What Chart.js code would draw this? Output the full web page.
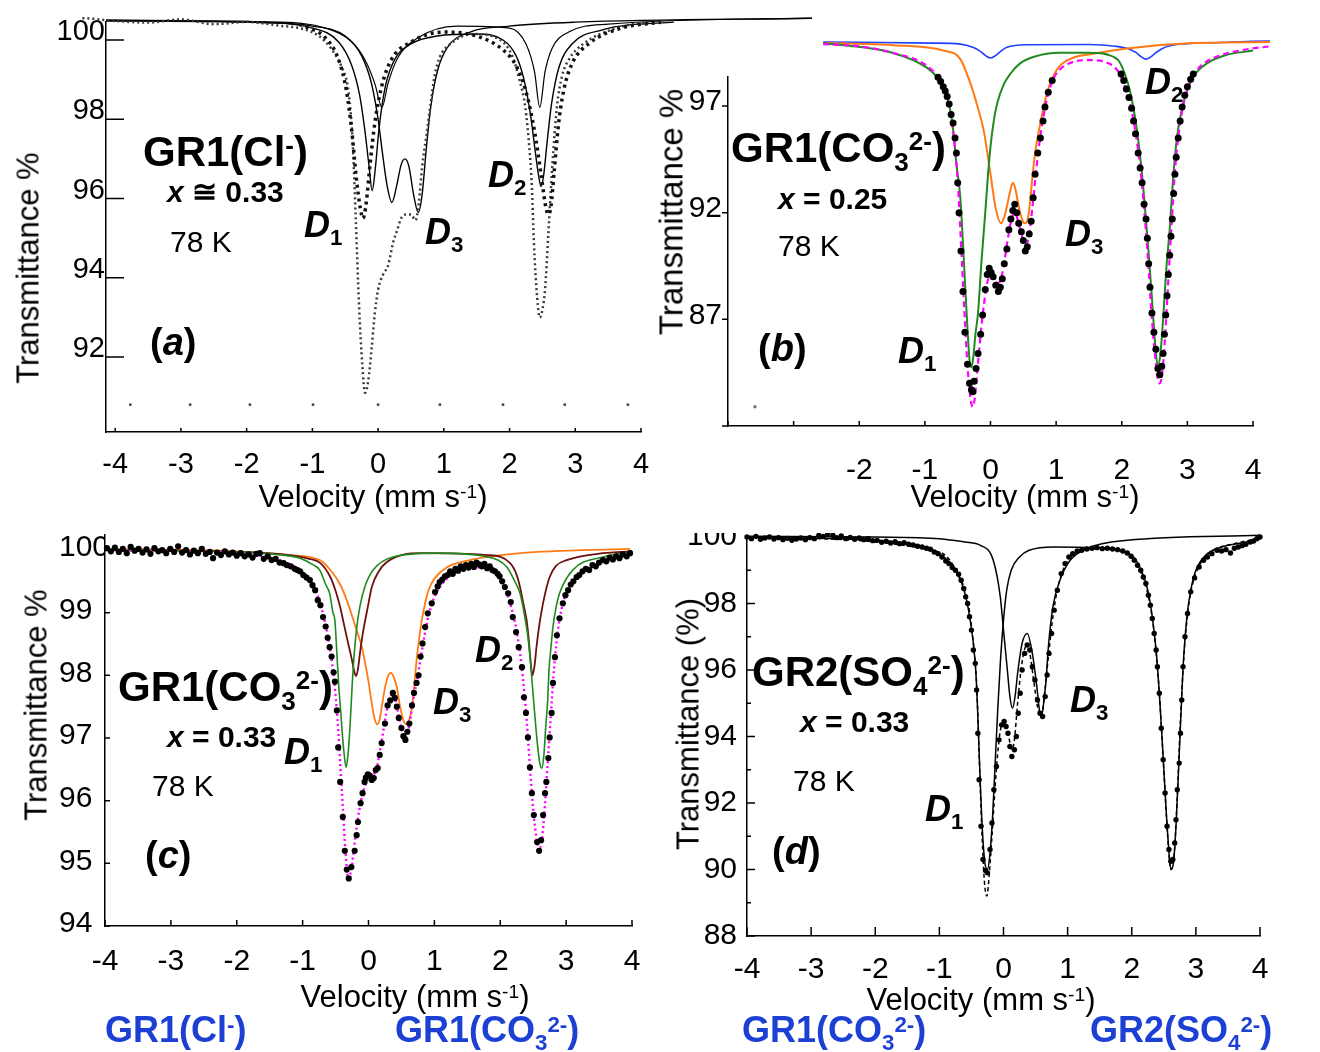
<!DOCTYPE html>
<html>
<head>
<meta charset="utf-8">
<script src="https://cdn.jsdelivr.net/npm/chart.js@4.4.1/dist/chart.umd.min.js"></script>
<style>
  body { margin: 0; background: #fff; }
  #page { position: relative; width: 1320px; height: 1052px; overflow: hidden; font-family: "Liberation Sans", Arial, sans-serif; color: #000; }
  canvas { position: absolute; }
  .t { position: absolute; white-space: nowrap; line-height: 1; }
  .nm { font-size: 42px; font-weight: bold; }
  .xv { font-size: 30px; font-weight: bold; }
  .tk { font-size: 30px; }
  .dl { font-size: 36px; font-weight: bold; font-style: italic; }
  .pl { font-size: 38px; font-weight: bold; }
  .ax { font-size: 31px; }
  .yt { font-size: 31px; transform: translate(-50%, -50%) rotate(-90deg); }
  .vt { transform: translateX(-50%); }
  .bl { font-size: 36px; font-weight: bold; color: #1c3fd4; }
  .lo { font-size: .62em; position: relative; top: .35em; font-style: normal; }
  .hi { font-size: .62em; position: relative; top: -.45em; font-style: normal; }
</style>
</head>
<body>
<div id="page">
  <canvas id="pa" width="830" height="520" style="left:0;top:0"></canvas>
  <canvas id="pb" width="660" height="520" style="left:660px;top:0"></canvas>
  <canvas id="pc" width="660" height="532" style="left:0;top:520px"></canvas>
  <canvas id="pd" width="660" height="519" style="left:660px;top:533px"></canvas>

  <!-- (a) -->
  <div class="t nm" style="left:143px;top:131px">GR1(Cl<span class="hi">-</span>)</div>
  <div class="t xv" style="left:167px;top:177px"><i>x</i> ≅ 0.33</div>
  <div class="t tk" style="left:170px;top:227px">78 K</div>
  <div class="t dl" style="left:304px;top:207px">D<span class="lo">1</span></div>
  <div class="t dl" style="left:425px;top:214px">D<span class="lo">3</span></div>
  <div class="t dl" style="left:488px;top:157px">D<span class="lo">2</span></div>
  <div class="t pl" style="left:150px;top:323px">(<i>a</i>)</div>
  <div class="t yt" style="left:28px;top:268px">Transmittance %</div>
  <div class="t ax vt" style="left:373px;top:481px">Velocity (mm s<span class="hi">-1</span>)</div>

  <!-- (b) -->
  <div class="t nm" style="left:731px;top:127px">GR1(CO<span class="lo">3</span><span class="hi">2-</span>)</div>
  <div class="t xv" style="left:778px;top:184px"><i>x</i> = 0.25</div>
  <div class="t tk" style="left:778px;top:231px">78 K</div>
  <div class="t pl" style="left:758px;top:329px">(<i>b</i>)</div>
  <div class="t dl" style="left:898px;top:333px">D<span class="lo">1</span></div>
  <div class="t dl" style="left:1065px;top:216px">D<span class="lo">3</span></div>
  <div class="t dl" style="left:1145px;top:64px">D<span class="lo">2</span></div>
  <div class="t yt" style="left:671px;top:212px;font-size:33px">Transmittance %</div>
  <div class="t ax vt" style="left:1025px;top:481px">Velocity (mm s<span class="hi">-1</span>)</div>

  <!-- (c) -->
  <div class="t nm" style="left:118px;top:666px">GR1(CO<span class="lo">3</span><span class="hi">2-</span>)</div>
  <div class="t xv" style="left:167px;top:722px"><i>x</i> = 0.33</div>
  <div class="t dl" style="left:284px;top:734px">D<span class="lo">1</span></div>
  <div class="t tk" style="left:152px;top:771px">78 K</div>
  <div class="t pl" style="left:145px;top:836px">(<i>c</i>)</div>
  <div class="t dl" style="left:475px;top:632px">D<span class="lo">2</span></div>
  <div class="t dl" style="left:433px;top:684px">D<span class="lo">3</span></div>
  <div class="t yt" style="left:36px;top:705px">Transmittance %</div>
  <div class="t ax vt" style="left:415px;top:981px">Velocity (mm s<span class="hi">-1</span>)</div>

  <!-- (d) -->
  <div class="t nm" style="left:752px;top:651px">GR2(SO<span class="lo">4</span><span class="hi">2-</span>)</div>
  <div class="t xv" style="left:800px;top:707px"><i>x</i> = 0.33</div>
  <div class="t tk" style="left:793px;top:766px">78 K</div>
  <div class="t dl" style="left:925px;top:791px">D<span class="lo">1</span></div>
  <div class="t pl" style="left:772px;top:832px">(<i>d</i>)</div>
  <div class="t dl" style="left:1070px;top:682px">D<span class="lo">3</span></div>
  <div class="t yt" style="left:688px;top:724px">Transmittance (%)</div>
  <div class="t ax vt" style="left:981px;top:984px">Velocity (mm s<span class="hi">-1</span>)</div>

  <!-- captions -->
  <div class="t bl" style="left:105px;top:1012px">GR1(Cl<span class="hi">-</span>)</div>
  <div class="t bl" style="left:395px;top:1012px">GR1(CO<span class="lo">3</span><span class="hi">2-</span>)</div>
  <div class="t bl" style="left:742px;top:1012px">GR1(CO<span class="lo">3</span><span class="hi">2-</span>)</div>
  <div class="t bl" style="left:1090px;top:1012px">GR2(SO<span class="lo">4</span><span class="hi">2-</span>)</div>
</div>

<script>
Chart.defaults.font.family = '"Liberation Sans", Arial, sans-serif';
Chart.defaults.color = '#000';

// velocity ticks shared by all four panels
const velTicks = [-4, -3, -2, -1, 0, 1, 2, 3, 4];

// ---------- (a) GR1(Cl-), scanned spectrum ----------
const aYTicks = [92, 94, 96, 98, 100];
const aDeep = [[-5.5,100.5],[-5.0,100.42],[-4.5,100.55],[-4.0,100.48],[-3.5,100.44],[-3.0,100.52],[-2.5,100.4],[-2.0,100.46],[-1.5,100.36],[-1.2,100.3],[-0.9,100.1],[-0.7,99.75],[-0.55,99.3],[-0.45,98.7],[-0.39,97.5],[-0.34,95.5],[-0.29,93.3],[-0.24,91.8],[-0.2,91.1],[-0.15,91.4],[-0.1,92.2],[-0.05,93.1],[0.0,93.7],[0.08,94.1],[0.15,94.3],[0.23,94.9],[0.29,95.2],[0.35,95.5],[0.43,95.6],[0.5,95.6],[0.57,95.45],[0.62,95.9],[0.67,96.8],[0.74,97.65],[0.8,98.4],[0.86,99.1],[0.94,99.57],[1.1,99.9],[1.44,100.15],[1.86,100.0],[2.04,99.6],[2.15,99.0],[2.24,98.3],[2.3,97.3],[2.34,96.3],[2.37,94.9],[2.42,93.5],[2.46,93.0],[2.5,93.2],[2.54,93.7],[2.59,95.1],[2.65,96.8],[2.72,98.3],[2.8,99.1],[2.9,99.5],[3.12,99.9],[3.63,100.3],[4.14,100.45],[5.0,100.5],[6.0,100.56],[6.6,100.6]];
const aHeavy = [[-1.2,100.4],[-0.8,100.05],[-0.6,99.5],[-0.48,98.7],[-0.4,97.7],[-0.33,96.5],[-0.27,95.75],[-0.23,95.5],[-0.18,95.9],[-0.12,96.9],[-0.05,97.9],[0.05,98.8],[0.2,99.5],[0.5,99.95],[1.0,100.2],[1.5,100.1],[1.9,99.75],[2.1,99.35],[2.25,98.7],[2.38,97.7],[2.48,96.6],[2.55,95.8],[2.59,95.6],[2.63,95.8],[2.68,96.7],[2.74,97.8],[2.82,98.7],[2.95,99.4],[3.2,99.9],[3.7,100.3],[4.3,100.45]];
const aFit1 = [[-4.14,100.48],[-2,100.45],[-1.0,100.3],[-0.6,99.95],[-0.4,99.35],[-0.28,98.6],[-0.2,97.7],[-0.14,96.85],[-0.09,96.2],[-0.04,96.8],[0.01,97.7],[0.06,98.35],[0.12,98.9],[0.25,99.5],[0.5,99.9],[0.9,100.1],[1.5,100.15],[1.9,100.0],[2.1,99.6],[2.22,99.0],[2.32,98.1],[2.39,97.2],[2.44,96.6],[2.48,96.3],[2.52,96.6],[2.57,97.4],[2.64,98.4],[2.75,99.3],[2.95,99.9],[3.4,100.25],[4.5,100.45],[6.6,100.55]];
const aFit2 = [[-4.14,100.5],[-2,100.45],[-1.0,100.35],[-0.5,100.1],[-0.25,99.6],[-0.1,98.9],[0.0,98.0],[0.07,97.1],[0.14,96.3],[0.21,95.9],[0.28,96.3],[0.35,96.85],[0.41,97.0],[0.47,96.8],[0.54,96.1],[0.61,95.65],[0.67,96.1],[0.73,97.2],[0.8,98.3],[0.9,99.2],[1.05,99.8],[1.4,100.2],[2.0,100.35],[3.0,100.45],[6.6,100.55]];
const aFit3 = [[-4.14,100.5],[-1.5,100.45],[-0.8,100.3],[-0.4,99.95],[-0.2,99.5],[-0.05,98.9],[0.06,98.3],[0.15,98.9],[0.3,99.55],[0.6,100.05],[1.2,100.35],[2.0,100.3],[2.25,99.9],[2.38,99.2],[2.46,98.3],[2.54,99.2],[2.65,99.8],[2.9,100.2],[3.5,100.4],[6.6,100.55]];
const aMarks = [[-3.77,90.8],[-2.86,90.8],[-1.95,90.8],[-0.99,90.8],[0,90.8],[0.94,90.8],[1.9,90.8],[2.84,90.8],[3.8,90.8]];

// ---------- (b) GR1(CO3 2-), x = 0.25 ----------
const bYTicks = [82, 87, 92, 97];
const bData = [[-2.55,99.86],[-2.5,99.95],[-2.45,99.8],[-2.4,99.9],[-2.35,99.82],[-2.3,99.88],[-2.25,99.76],[-2.2,99.85],[-2.15,99.78],[-2.1,99.83],[-2.05,99.7],[-2.0,99.78],[-1.95,99.66],[-1.9,99.74],[-1.85,99.68],[-1.8,99.6],[-1.75,99.7],[-1.7,99.58],[-1.65,99.62],[-1.6,99.5],[-1.55,99.56],[-1.5,99.42],[-1.45,99.5],[-1.4,99.38],[-1.35,99.33],[-1.3,99.4],[-1.25,99.26],[-1.2,99.22],[-1.15,99.15],[-1.1,99.1],[-1.05,99.02],[-1.0,98.95],[-0.95,98.8],[-0.9,98.7],[-0.85,98.55],[-0.8,98.35],[-0.76,98.15],[-0.72,97.9],[-0.69,97.7],[-0.66,97.45],[-0.63,97.1],[-0.6,96.6],[-0.57,96.2],[-0.54,95.5],[-0.52,94.8],[-0.5,93.4],[-0.48,92.0],[-0.45,90.2],[-0.42,88.3],[-0.39,86.4],[-0.35,84.9],[-0.32,84.0],[-0.29,83.7],[-0.27,83.6],[-0.25,84.1],[-0.22,84.7],[-0.19,85.4],[-0.15,86.3],[-0.12,87.2],[-0.08,88.4],[-0.05,89.1],[-0.02,89.4],[0.01,89.2],[0.04,89.0],[0.08,88.6],[0.12,88.3],[0.15,88.5],[0.18,88.9],[0.21,89.6],[0.25,90.3],[0.28,91.2],[0.31,91.7],[0.34,92.1],[0.37,92.4],[0.4,92.0],[0.43,91.5],[0.47,91.1],[0.5,90.7],[0.53,90.2],[0.56,90.4],[0.59,91.0],[0.62,91.6],[0.65,92.7],[0.68,93.8],[0.72,94.8],[0.76,95.5],[0.8,96.3],[0.83,96.95],[0.88,97.65],[0.94,98.2],[1.0,98.6],[1.06,98.8],[1.12,98.95],[1.18,99.05],[1.24,99.1],[1.3,99.2],[1.36,99.18],[1.42,99.25],[1.48,99.22],[1.54,99.28],[1.6,99.2],[1.66,99.24],[1.72,99.15],[1.78,99.12],[1.84,99.05],[1.9,98.92],[1.95,98.75],[1.99,98.5],[2.03,98.2],[2.07,97.8],[2.11,97.4],[2.15,96.9],[2.18,96.3],[2.21,95.7],[2.25,94.8],[2.28,94.1],[2.31,93.4],[2.34,92.4],[2.37,91.7],[2.39,90.8],[2.41,89.6],[2.43,88.5],[2.46,87.3],[2.49,86.4],[2.52,85.6],[2.55,84.7],[2.58,84.4],[2.61,84.8],[2.63,85.4],[2.65,86.3],[2.67,87.2],[2.69,88.1],[2.71,89.1],[2.73,90.0],[2.75,90.9],[2.77,91.7],[2.79,92.9],[2.81,93.8],[2.83,94.6],[2.86,95.5],[2.89,96.3],[2.92,96.95],[2.96,97.5],[3.0,97.9],[3.05,98.25],[3.09,98.5],[3.14,98.7],[3.19,98.9],[3.24,99.02],[3.3,99.15],[3.36,99.25],[3.42,99.3],[3.48,99.38],[3.54,99.42],[3.6,99.5],[3.66,99.48],[3.72,99.56],[3.78,99.6],[3.84,99.58],[3.9,99.65],[3.96,99.68],[4.02,99.7]];
const bTotal = [[-2.55,99.9],[-2.0,99.8],[-1.5,99.5],[-1.0,98.95],[-0.8,98.35],[-0.7,97.75],[-0.62,96.8],[-0.55,95.3],[-0.5,93.5],[-0.45,90.6],[-0.4,87.5],[-0.35,84.8],[-0.3,83.2],[-0.27,82.9],[-0.24,83.3],[-0.2,84.6],[-0.15,86.3],[-0.1,87.7],[-0.05,88.7],[0.0,89.1],[0.05,89.0],[0.1,88.7],[0.15,88.8],[0.2,89.5],[0.26,90.7],[0.32,91.7],[0.37,92.0],[0.42,91.6],[0.48,90.9],[0.54,90.5],[0.59,91.0],[0.64,92.3],[0.7,94.1],[0.76,95.6],[0.83,96.9],[0.9,97.8],[1.0,98.5],[1.2,99.0],[1.5,99.15],[1.8,99.0],[1.95,98.6],[2.05,97.9],[2.15,96.8],[2.25,94.9],[2.33,92.6],[2.4,89.8],[2.46,87.0],[2.51,85.2],[2.55,84.2],[2.58,84.0],[2.61,84.3],[2.65,85.7],[2.7,88.3],[2.76,91.5],[2.82,94.3],[2.9,96.4],[3.0,97.8],[3.15,98.7],[3.4,99.25],[3.8,99.6],[4.26,99.8]];
const bD1 = [[-2.55,99.95],[-1.5,99.5],[-0.97,98.8],[-0.8,98.3],[-0.72,97.9],[-0.62,96.9],[-0.57,95.9],[-0.52,94.3],[-0.46,92.7],[-0.42,90.6],[-0.39,88.8],[-0.35,86.5],[-0.32,85.1],[-0.29,84.75],[-0.26,85.3],[-0.23,86.3],[-0.19,87.3],[-0.14,89.6],[-0.08,92.0],[-0.04,93.7],[0.0,95.1],[0.05,96.3],[0.1,97.1],[0.2,98.0],[0.3,98.5],[0.45,99.0],[0.65,99.3],[1.06,99.5],[1.5,99.5],[1.93,99.2],[2.08,98.2],[2.16,97.2],[2.23,95.9],[2.3,94.1],[2.36,92.0],[2.41,90.1],[2.46,88.0],[2.51,85.8],[2.55,84.8],[2.59,85.4],[2.63,87.0],[2.68,89.4],[2.73,91.2],[2.78,93.5],[2.84,95.5],[2.92,96.9],[3.0,97.75],[3.12,98.5],[3.3,99.0],[3.6,99.4],[4.0,99.6],[4.26,99.8]];
const bD3 = [[-2.55,99.95],[-1.48,99.85],[-0.72,99.6],[-0.46,99.2],[-0.3,98.0],[-0.2,97.0],[-0.1,95.8],[0.0,93.8],[0.08,92.2],[0.16,91.5],[0.21,91.8],[0.25,92.3],[0.3,93.0],[0.34,93.4],[0.38,93.1],[0.42,92.45],[0.47,91.8],[0.52,91.5],[0.56,91.6],[0.6,92.4],[0.63,93.4],[0.68,94.8],[0.76,96.2],[0.86,97.6],[1.01,98.7],[1.21,99.2],[1.57,99.45],[2.08,99.7],[3.09,99.95],[4.26,100.0]];
const bD2 = [[-2.55,100.0],[-0.9,99.95],[-0.46,99.9],[-0.27,99.75],[-0.15,99.55],[-0.07,99.35],[0.0,99.25],[0.07,99.35],[0.15,99.55],[0.25,99.75],[0.56,99.87],[1.5,99.88],[1.9,99.8],[2.1,99.68],[2.22,99.5],[2.3,99.3],[2.37,99.2],[2.44,99.3],[2.52,99.5],[2.62,99.7],[2.84,99.88],[3.5,99.98],[4.26,100.05]];
const bMarks = [[-3.59,82.9]];

// ---------- (c) GR1(CO3 2-), x = 0.33 ----------
const cYTicks = [94, 95, 96, 97, 98, 99, 100];
const cData = [[-3.97,100.03],[-3.91,99.98],[-3.85,100.04],[-3.79,99.97],[-3.73,100.02],[-3.67,99.95],[-3.61,100.05],[-3.55,99.99],[-3.49,100.02],[-3.43,99.96],[-3.37,100.01],[-3.31,99.94],[-3.25,100.03],[-3.19,99.98],[-3.13,100.0],[-3.07,99.95],[-3.01,100.02],[-2.95,99.97],[-2.89,100.06],[-2.83,99.96],[-2.77,100.0],[-2.71,99.93],[-2.65,99.99],[-2.59,99.95],[-2.53,100.02],[-2.47,99.94],[-2.41,99.97],[-2.36,99.87],[-2.3,99.96],[-2.24,99.92],[-2.18,99.98],[-2.12,99.93],[-2.06,99.96],[-2.0,99.91],[-1.94,99.95],[-1.88,99.9],[-1.82,99.93],[-1.76,99.88],[-1.7,99.94],[-1.65,99.95],[-1.59,99.86],[-1.53,99.9],[-1.47,99.84],[-1.41,99.86],[-1.35,99.8],[-1.29,99.79],[-1.24,99.76],[-1.18,99.74],[-1.12,99.7],[-1.08,99.68],[-1.04,99.66],[-0.99,99.6],[-0.94,99.56],[-0.89,99.52],[-0.85,99.44],[-0.81,99.36],[-0.77,99.2],[-0.73,99.12],[-0.69,98.93],[-0.65,98.78],[-0.62,98.6],[-0.59,98.45],[-0.56,98.3],[-0.53,98.05],[-0.51,97.9],[-0.48,97.44],[-0.46,96.85],[-0.43,96.3],[-0.39,95.74],[-0.36,95.2],[-0.33,94.9],[-0.3,94.76],[-0.26,94.94],[-0.21,95.2],[-0.18,95.45],[-0.16,95.66],[-0.12,95.96],[-0.09,96.12],[-0.06,96.3],[-0.04,96.37],[-0.01,96.42],[0.02,96.4],[0.05,96.33],[0.08,96.36],[0.11,96.49],[0.14,96.52],[0.17,96.73],[0.2,96.92],[0.25,97.23],[0.29,97.52],[0.33,97.6],[0.37,97.72],[0.4,97.64],[0.43,97.5],[0.46,97.32],[0.5,97.16],[0.53,97.03],[0.56,96.97],[0.59,97.1],[0.62,97.23],[0.66,97.52],[0.69,97.72],[0.73,97.88],[0.76,98.0],[0.79,98.3],[0.82,98.51],[0.86,98.77],[0.9,98.99],[0.96,99.15],[1.01,99.33],[1.05,99.42],[1.08,99.49],[1.12,99.53],[1.16,99.58],[1.2,99.6],[1.24,99.66],[1.28,99.62],[1.32,99.7],[1.36,99.67],[1.4,99.74],[1.44,99.7],[1.48,99.76],[1.52,99.72],[1.56,99.78],[1.6,99.73],[1.64,99.8],[1.68,99.77],[1.72,99.74],[1.76,99.78],[1.8,99.71],[1.84,99.74],[1.88,99.68],[1.92,99.66],[1.96,99.62],[1.99,99.58],[2.03,99.5],[2.07,99.41],[2.12,99.31],[2.16,99.17],[2.19,98.93],[2.24,98.69],[2.28,98.45],[2.33,98.13],[2.36,97.65],[2.39,97.4],[2.42,97.01],[2.45,96.53],[2.48,96.12],[2.51,95.77],[2.56,95.34],[2.59,95.2],[2.62,95.37],[2.65,95.77],[2.68,96.12],[2.7,96.3],[2.73,96.68],[2.75,97.01],[2.78,97.4],[2.8,97.88],[2.83,98.29],[2.86,98.64],[2.9,98.91],[2.95,99.15],[2.99,99.28],[3.03,99.36],[3.07,99.45],[3.11,99.5],[3.16,99.57],[3.2,99.6],[3.25,99.66],[3.3,99.7],[3.35,99.68],[3.4,99.76],[3.45,99.74],[3.5,99.8],[3.56,99.84],[3.61,99.82],[3.66,99.88],[3.71,99.85],[3.76,99.9],[3.81,99.87],[3.86,99.93],[3.92,99.9],[3.97,99.95]];
const cTotal = [[-4,100.0],[-2,99.95],[-1.5,99.88],[-1.2,99.78],[-1.0,99.65],[-0.85,99.45],[-0.75,99.2],[-0.65,98.8],[-0.58,98.4],[-0.52,97.9],[-0.47,97.3],[-0.43,96.6],[-0.39,95.9],[-0.35,95.2],[-0.31,94.8],[-0.27,94.85],[-0.23,95.15],[-0.19,95.5],[-0.14,95.85],[-0.08,96.15],[0.0,96.35],[0.07,96.4],[0.13,96.55],[0.2,96.95],[0.27,97.4],[0.33,97.65],[0.38,97.7],[0.44,97.45],[0.5,97.15],[0.56,97.0],[0.61,97.15],[0.67,97.55],[0.74,97.95],[0.82,98.45],[0.9,98.9],[1.0,99.25],[1.15,99.5],[1.4,99.68],[1.7,99.72],[1.9,99.65],[2.05,99.45],[2.15,99.15],[2.25,98.7],[2.33,98.1],[2.4,97.3],[2.46,96.4],[2.51,95.75],[2.56,95.35],[2.6,95.25],[2.64,95.45],[2.68,95.95],[2.72,96.6],[2.77,97.4],[2.82,98.15],[2.88,98.75],[2.95,99.15],[3.05,99.42],[3.2,99.6],[3.5,99.8],[4.0,99.93]];
const cD1 = [[-4,100.0],[-2,99.97],[-1.4,99.93],[-1.04,99.87],[-0.85,99.77],[-0.74,99.68],[-0.65,99.45],[-0.59,99.31],[-0.54,99.0],[-0.51,98.88],[-0.48,98.35],[-0.45,97.8],[-0.42,97.4],[-0.4,97.1],[-0.37,96.75],[-0.34,96.53],[-0.31,96.75],[-0.28,97.2],[-0.25,97.8],[-0.22,98.3],[-0.18,98.75],[-0.13,99.1],[-0.06,99.4],[0.07,99.68],[0.37,99.89],[1.04,99.95],[1.8,99.89],[2.1,99.73],[2.22,99.5],[2.3,99.31],[2.37,98.95],[2.42,98.61],[2.46,98.2],[2.49,97.81],[2.53,97.3],[2.56,96.95],[2.6,96.6],[2.63,96.52],[2.66,96.7],[2.69,97.17],[2.72,97.6],[2.74,98.08],[2.77,98.45],[2.8,98.77],[2.85,99.1],[2.9,99.31],[3.1,99.68],[3.56,99.89],[4.01,99.97]];
const cD2 = [[-4,100.0],[-2,99.97],[-1.2,99.92],[-0.9,99.86],[-0.73,99.79],[-0.58,99.57],[-0.5,99.35],[-0.43,99.09],[-0.38,98.85],[-0.33,98.61],[-0.28,98.38],[-0.25,98.24],[-0.22,98.08],[-0.19,97.99],[-0.16,98.1],[-0.13,98.35],[-0.09,98.65],[-0.05,98.88],[0.0,99.15],[0.05,99.41],[0.15,99.65],[0.28,99.81],[0.78,99.95],[1.8,99.92],[2.15,99.79],[2.25,99.6],[2.3,99.41],[2.35,99.15],[2.4,98.88],[2.43,98.6],[2.45,98.35],[2.47,98.12],[2.49,98.0],[2.52,98.15],[2.55,98.45],[2.59,98.78],[2.63,99.04],[2.68,99.3],[2.75,99.57],[2.85,99.75],[3.01,99.84],[3.56,99.95],[4.0,99.98]];
const cD3 = [[-4,100.02],[-2,99.98],[-1.2,99.92],[-0.74,99.84],[-0.54,99.63],[-0.43,99.45],[-0.33,99.2],[-0.25,98.95],[-0.18,98.72],[-0.1,98.45],[-0.05,98.19],[0.0,97.9],[0.05,97.55],[0.09,97.32],[0.13,97.22],[0.17,97.3],[0.2,97.49],[0.25,97.8],[0.3,98.0],[0.34,98.04],[0.38,97.98],[0.43,97.81],[0.48,97.5],[0.53,97.28],[0.58,97.22],[0.62,97.3],[0.66,97.49],[0.7,97.9],[0.73,98.24],[0.77,98.6],[0.81,98.88],[0.87,99.2],[0.93,99.41],[1.13,99.68],[1.54,99.84],[2.3,99.95],[3.97,100.02]];

// ---------- (d) GR2(SO4 2-), x = 0.33 ----------
const dYTicks = [88, 90, 92, 94, 96, 98, 100];
const dYMinor = [89, 91, 93, 95, 97, 99];
const dData = [[-4.0,100.0],[-3.93,99.95],[-3.86,100.02],[-3.79,99.93],[-3.72,99.97],[-3.65,100.0],[-3.58,99.94],[-3.51,99.98],[-3.44,99.92],[-3.37,99.96],[-3.3,99.9],[-3.23,99.94],[-3.16,99.97],[-3.09,99.92],[-3.02,99.98],[-2.95,99.95],[-2.88,100.05],[-2.81,100.02],[-2.74,100.1],[-2.7,100.17],[-2.66,100.05],[-2.6,99.98],[-2.53,100.03],[-2.46,99.95],[-2.39,99.99],[-2.32,99.93],[-2.25,99.97],[-2.18,99.92],[-2.11,99.95],[-2.04,99.89],[-1.97,99.9],[-1.9,99.84],[-1.83,99.87],[-1.76,99.82],[-1.69,99.86],[-1.62,99.8],[-1.55,99.83],[-1.48,99.78],[-1.41,99.76],[-1.34,99.72],[-1.27,99.7],[-1.2,99.66],[-1.14,99.63],[-1.08,99.55],[-1.02,99.5],[-0.96,99.4],[-0.9,99.28],[-0.85,99.2],[-0.8,99.08],[-0.75,99.0],[-0.7,98.88],[-0.66,98.7],[-0.62,98.45],[-0.59,98.2],[-0.56,98.0],[-0.53,97.6],[-0.5,97.2],[-0.47,96.6],[-0.44,96.2],[-0.42,95.4],[-0.4,94.1],[-0.38,92.7],[-0.35,91.3],[-0.32,90.3],[-0.28,89.97],[-0.25,89.9],[-0.21,90.6],[-0.18,91.4],[-0.15,92.4],[-0.11,93.1],[-0.07,93.9],[-0.03,94.35],[0.01,94.45],[0.04,94.3],[0.07,94.1],[0.1,93.7],[0.13,93.4],[0.17,93.6],[0.2,94.0],[0.23,94.7],[0.26,95.3],[0.29,96.0],[0.33,96.5],[0.37,96.75],[0.41,96.6],[0.45,96.1],[0.49,95.7],[0.53,95.1],[0.57,94.7],[0.61,94.6],[0.65,95.2],[0.68,95.85],[0.71,96.5],[0.75,97.1],[0.79,97.8],[0.84,98.4],[0.9,98.9],[0.96,99.2],[1.02,99.4],[1.08,99.5],[1.15,99.58],[1.22,99.6],[1.3,99.64],[1.38,99.66],[1.46,99.68],[1.54,99.65],[1.62,99.66],[1.7,99.64],[1.78,99.62],[1.86,99.58],[1.93,99.52],[1.99,99.42],[2.04,99.3],[2.09,99.15],[2.14,99.0],[2.18,98.8],[2.22,98.6],[2.26,98.25],[2.29,97.95],[2.32,97.55],[2.35,97.1],[2.38,96.6],[2.4,96.1],[2.43,95.3],[2.46,94.25],[2.49,93.3],[2.52,92.3],[2.55,91.3],[2.58,90.6],[2.61,90.25],[2.64,90.3],[2.67,90.8],[2.69,91.5],[2.71,92.4],[2.74,93.2],[2.76,94.1],[2.78,95.1],[2.8,96.1],[2.83,97.0],[2.87,97.7],[2.92,98.35],[2.98,98.77],[3.05,99.1],[3.12,99.3],[3.18,99.4],[3.25,99.5],[3.33,99.6],[3.4,99.58],[3.47,99.62],[3.54,99.52],[3.6,99.66],[3.66,99.7],[3.72,99.74],[3.78,99.78],[3.85,99.85],[3.9,99.88],[3.95,99.95],[4.0,100.0]];
const dTotal = [[-4,100.0],[-1.0,99.55],[-0.7,98.85],[-0.55,98.0],[-0.47,96.8],[-0.42,95.6],[-0.38,93.5],[-0.34,91.3],[-0.3,89.7],[-0.26,89.2],[-0.22,89.9],[-0.18,91.0],[-0.13,92.5],[-0.08,93.7],[-0.03,94.3],[0.03,94.3],[0.08,94.0],[0.13,93.6],[0.17,93.9],[0.22,95.0],[0.28,96.1],[0.35,96.7],[0.41,96.5],[0.47,95.7],[0.53,94.9],[0.59,94.6],[0.64,95.3],[0.7,96.4],[0.77,97.6],[0.85,98.5],[0.95,99.1],[1.1,99.5],[1.4,99.65],[1.9,99.55],[2.1,99.1],[2.25,98.3],[2.35,97.1],[2.43,95.3],[2.5,93.0],[2.56,91.0],[2.61,90.0],[2.66,90.4],[2.71,92.2],[2.76,94.5],[2.82,96.6],[2.9,98.1],[3.0,98.9],[3.2,99.5],[3.6,99.8],[4.0,99.95]];
const dD1 = [[-4.0,100.0],[-2.0,99.9],[-1.5,99.8],[-1.1,99.6],[-0.9,99.35],[-0.75,99.0],[-0.65,98.6],[-0.57,98.05],[-0.52,97.5],[-0.47,96.8],[-0.43,95.9],[-0.4,94.6],[-0.37,93.0],[-0.33,91.2],[-0.29,90.2],[-0.25,90.0],[-0.21,90.5],[-0.17,91.6],[-0.13,93.2],[-0.09,94.8],[-0.05,96.2],[0.0,97.5],[0.05,98.4],[0.12,99.0],[0.25,99.4],[0.4,99.6],[0.8,99.7],[1.4,99.68],[1.9,99.55],[2.05,99.35],[2.15,99.0],[2.25,98.4],[2.32,97.6],[2.38,96.6],[2.43,95.3],[2.48,93.7],[2.53,92.0],[2.57,90.8],[2.61,90.0],[2.65,90.2],[2.69,91.3],[2.73,93.0],[2.77,94.8],[2.81,96.4],[2.86,97.6],[2.92,98.4],[3.0,99.0],[3.15,99.45],[3.4,99.7],[3.8,99.85],[4.0,99.95]];
const dD3 = [[-4,100.02],[-2,100.0],[-1,99.95],[-0.6,99.85],[-0.36,99.75],[-0.16,99.3],[-0.05,98.2],[0.0,97.2],[0.06,96.0],[0.1,95.2],[0.14,94.85],[0.18,95.2],[0.22,95.9],[0.29,96.8],[0.37,97.1],[0.45,96.5],[0.52,95.5],[0.56,94.8],[0.59,94.6],[0.62,94.9],[0.66,95.6],[0.7,96.7],[0.77,97.9],[0.88,98.7],[1.04,99.3],[1.31,99.66],[1.93,99.9],[4.0,100.05]];

const xy = arr => arr.map(p => ({ x: p[0], y: p[1] }));

function dots(arr, r, color, style) {
  return { data: xy(arr), showLine: false, pointRadius: r, pointStyle: style || 'circle',
           pointBackgroundColor: color || '#000', pointBorderWidth: 0, clip: false };
}
function curve(arr, color, width, dash) {
  return { data: xy(arr), borderColor: color, borderWidth: width, borderDash: dash || [],
           pointRadius: 0, cubicInterpolationMode: 'monotone', fill: false, clip: false };
}

// tick marks drawn inward (or outward when negative) from the axes
const tickMarks = {
  id: 'tickMarks',
  afterDraw(chart, args, o) {
    const { ctx, chartArea: a, scales: { x, y } } = chart;
    ctx.save();
    ctx.strokeStyle = '#000';
    ctx.lineWidth = 1.5;
    ctx.beginPath();
    x.ticks.forEach(t => {
      const px = x.getPixelForValue(t.value);
      ctx.moveTo(px, a.bottom); ctx.lineTo(px, a.bottom - o.x);
    });
    y.ticks.forEach(t => {
      const py = y.getPixelForValue(t.value);
      ctx.moveTo(a.left, py); ctx.lineTo(a.left + o.y, py);
    });
    (o.yMinor || []).forEach(v => {
      const py = y.getPixelForValue(v);
      ctx.moveTo(a.left, py); ctx.lineTo(a.left + o.yMinorLen, py);
    });
    ctx.stroke();
    ctx.restore();
  }
};

function panel(id, p) {
  return new Chart(document.getElementById(id), {
    type: 'line',
    data: { datasets: p.datasets },
    plugins: [tickMarks],
    options: {
      responsive: false,
      animation: false,
      events: [],
      layout: { padding: p.pad, autoPadding: false },
      plugins: { legend: { display: false }, tooltip: { enabled: false }, tickMarks: p.marks },
      scales: {
        x: {
          type: 'linear', min: p.xMin, max: p.xMax,
          afterBuildTicks: s => { s.ticks = velTicks.map(v => ({ value: v })); },
          afterFit: s => { s.height = p.xH; s.paddingLeft = 0; s.paddingRight = 0; },
          grid: { display: false, drawTicks: false },
          border: { display: true, color: '#000', width: 1.5 },
          ticks: { font: { size: p.font }, padding: p.xPad, maxRotation: 0, autoSkip: false,
                   callback: p.xLabel || (v => v) }
        },
        y: {
          type: 'linear', min: p.yMin, max: p.yMax,
          afterBuildTicks: s => { s.ticks = p.yTicks.map(v => ({ value: v })); },
          afterFit: s => { s.width = p.yW; s.paddingTop = 0; s.paddingBottom = 0; },
          grid: { display: false, drawTicks: false },
          border: { display: true, color: '#000', width: 1.5 },
          ticks: { font: { size: p.font }, padding: p.yPad, autoSkip: false,
                   labelOffset: p.yOff, crossAlign: p.cross || 'near',
                   callback: p.yLabel || (v => v) }
        }
      }
    }
  });
}

panel('pa', {
  datasets: [
    dots(aMarks, 1.8, '#444', 'rect'),
    curve(aHeavy, '#111', 3.5, [3, 4]),
    curve(aDeep, '#3a3a3a', 2.5, [2, 3]),
    curve(aFit1, '#000', 1.4),
    curve(aFit2, '#000', 1.4),
    curve(aFit3, '#000', 1.2)
  ],
  pad: { left: 0, top: 22, right: 189, bottom: 0 },
  xMin: -4.14, xMax: 4, xH: 88, xPad: 16,
  yMin: 90.11, yMax: 100.454, yW: 106, yPad: 1, yOff: -8, yTicks: aYTicks,
  font: 29,
  marks: { x: 4, y: 18 }
});

panel('pb', {
  datasets: [
    dots(bData, 3.5),
    curve(bTotal, '#ff00ff', 2.2, [6, 4]),
    curve(bD1, '#1f8a1f', 2),
    curve(bD3, '#ff7a14', 2),
    curve(bD2, '#2040ff', 1.6),
    dots(bMarks, 2, '#667', 'rect')
  ],
  pad: { left: 0, top: 77, right: 67, bottom: 0 },
  xMin: -4, xMax: 4, xH: 94, xPad: 27, xLabel: v => (v < -2 ? '' : v),
  yMin: 82, yMax: 98.36, yW: 68, yPad: 6, yOff: -4, yTicks: bYTicks, yLabel: v => (v === 82 ? '' : v),
  font: 30,
  marks: { x: 5, y: -6 }
});

panel('pc', {
  datasets: [
    dots(cData, 3.1),
    curve(cTotal, '#ff00ff', 2.4, [2, 3]),
    curve(cD1, '#1f8a1f', 1.6),
    curve(cD2, '#6e1010', 1.8),
    curve(cD3, '#ff7a14', 1.8)
  ],
  pad: { left: 59, top: 15, right: 28, bottom: 0 },
  xMin: -4, xMax: 4, xH: 126, xPad: 18,
  yMin: 94, yMax: 100.24, yW: 46, yPad: 0, yOff: -2, yTicks: cYTicks, cross: 'far',
  font: 30,
  marks: { x: 6, y: 5 }
});

panel('pd', {
  datasets: [
    dots(dData, 2.7),
    curve(dTotal, '#000', 1.5, [4, 3]),
    curve(dD1, '#000', 1.5),
    curve(dD3, '#000', 1.5)
  ],
  pad: { left: 0, top: 4, right: 60, bottom: 0 },
  xMin: -4, xMax: 4, xH: 116, xPad: 16,
  yMin: 88, yMax: 100, yW: 87, yPad: 10, yOff: 0, yTicks: dYTicks,
  font: 30,
  marks: { x: 9, y: 8, yMinor: dYMinor, yMinorLen: 4 }
});
</script>
</body>
</html>
